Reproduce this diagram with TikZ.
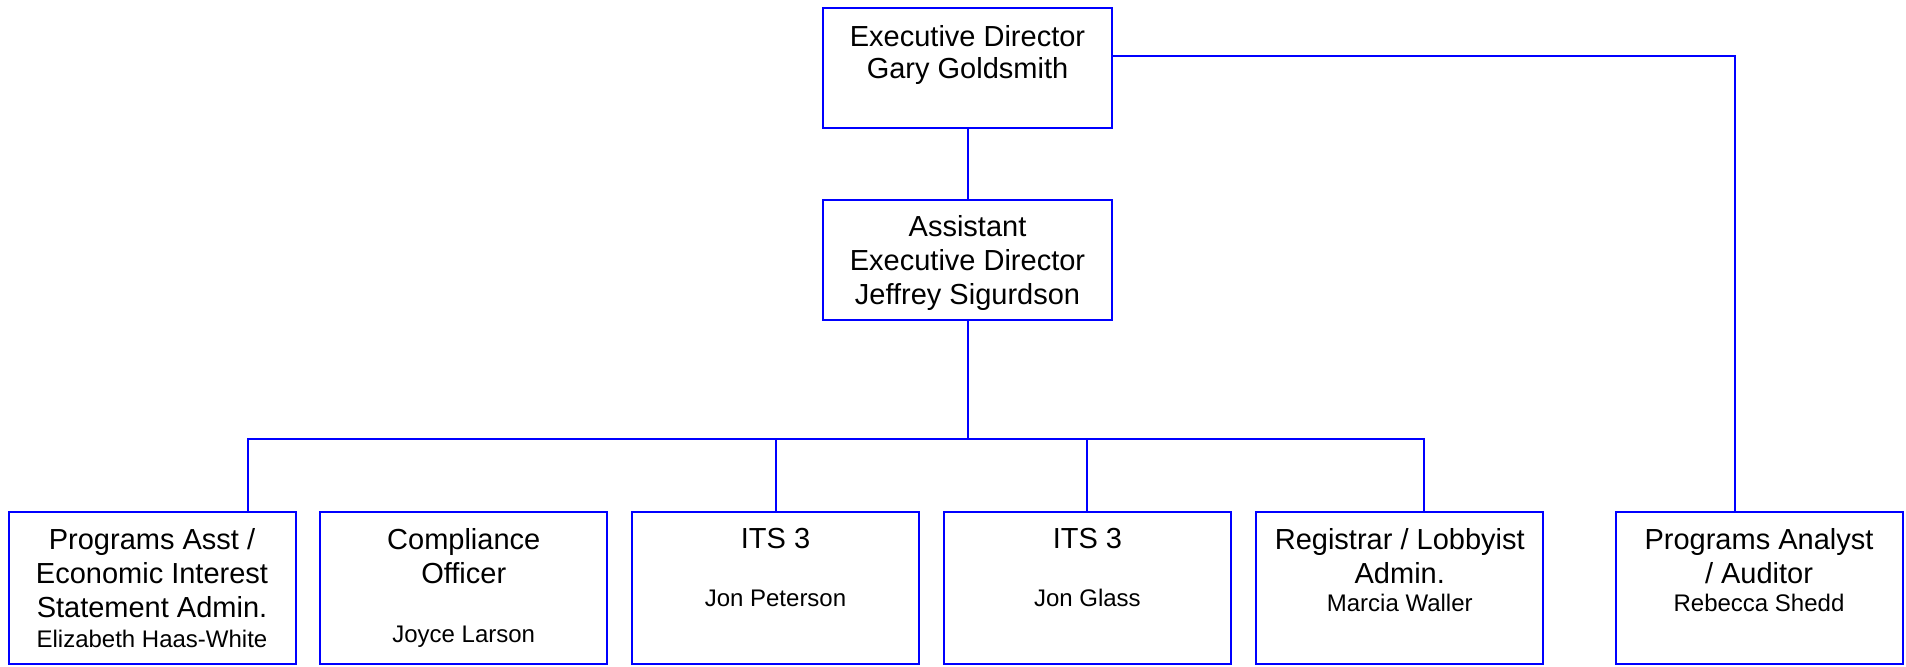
\documentclass[tikz,border=0pt]{standalone}
\usepackage{fontspec}
\setmainfont{Liberation Sans}
\usetikzlibrary{calc}
\definecolor{orgblue}{RGB}{0,0,255}
\tikzset{
	post/.style={draw=orgblue,line width=1pt,minimum width=143.5pt,minimum height=76pt,inner sep=0pt},
	head/.style={post,minimum width=144.5pt,minimum height=60pt},
	link/.style={draw=orgblue,line width=1pt},
	title/.style={anchor=north,inner sep=0pt,align=center,font=\fontsize{14.5}{17}\selectfont},
	who/.style={anchor=base,inner sep=0pt,font=\fontsize{12}{14.5}\selectfont}
}

\begin{document}
\begin{tikzpicture}[x=0.5pt,y=-0.5pt]
	\useasboundingbox (0,0) rectangle (1906,666);
	% directors
	\node[head] (ed) at (967.5,67.5) {};
	\node[head,minimum height=59.75pt] (aed) at (967.5,259.75) {};
	\node[title] (ed-t) at ($(ed.north)+(0,18.5)$) {Executive Director\\[-0.85pt]Gary Goldsmith};
	\node[title] (aed-t) at ($(aed.north)+(0,16.5)$) {Assistant\\Executive Director\\Jeffrey Sigurdson};
	% staff
	\node[post] (pa) at (152,588) {};
	\node[post] (co) at (463.75,588) {};
	\node[post] (its1) at (775.5,588) {};
	\node[post] (its2) at (1087.4,588) {};
	\node[post] (reg) at (1399.75,588) {};
	\node[post] (pa2) at (1759,588) {};
	\node[title] (pa-t) at ($(pa.north)+(0,16.6)$) {Programs Asst /\\Economic Interest\\Statement Admin.};
	\node[who] (pa-n) at ($(pa.north)+(0,136)$) {Elizabeth Haas-White};
	\node[title] (co-t) at ($(co.north)+(0,16.6)$) {Compliance\\Officer};
	\node[who] (co-n) at ($(co.north)+(0,131)$) {Joyce Larson};
	\node[title] (its1-t) at ($(its1.north)+(0,16.6)$) {ITS 3};
	\node[who] (its1-n) at ($(its1.north)+(0,95)$) {Jon Peterson};
	\node[title] (its2-t) at ($(its2.north)+(0,16.6)$) {ITS 3};
	\node[who] (its2-n) at ($(its2.north)+(0,95)$) {Jon Glass};
	\node[title] (reg-t) at ($(reg.north)+(0,16.6)$) {Registrar / Lobbyist\\Admin.};
	\node[who] (reg-n) at ($(reg.north)+(0,100)$) {Marcia Waller};
	\node[title] (pa2-t) at ($(pa2.north)+(0,16.6)$) {Programs Analyst\\/ Auditor};
	\node[who] (pa2-n) at ($(pa2.north)+(0,100)$) {Rebecca Shedd};
	% lines
	\coordinate (bus) at (967.5,439);
	\draw[link] (ed) -- (aed);
	\draw[link] (aed) -- (bus);
	\draw[link] ($(pa.north)+(96,0)$) |- (bus) -| ($(reg.north)+(24,0)$);
	\draw[link] (its1) -- (its1 |- bus);
	\draw[link] (its2) -- (its2 |- bus);
	\draw[link] ($(ed.east)+(0,-11.5)$) -| ($(pa2.north)+(-24,0)$);
\end{tikzpicture}
\end{document}
